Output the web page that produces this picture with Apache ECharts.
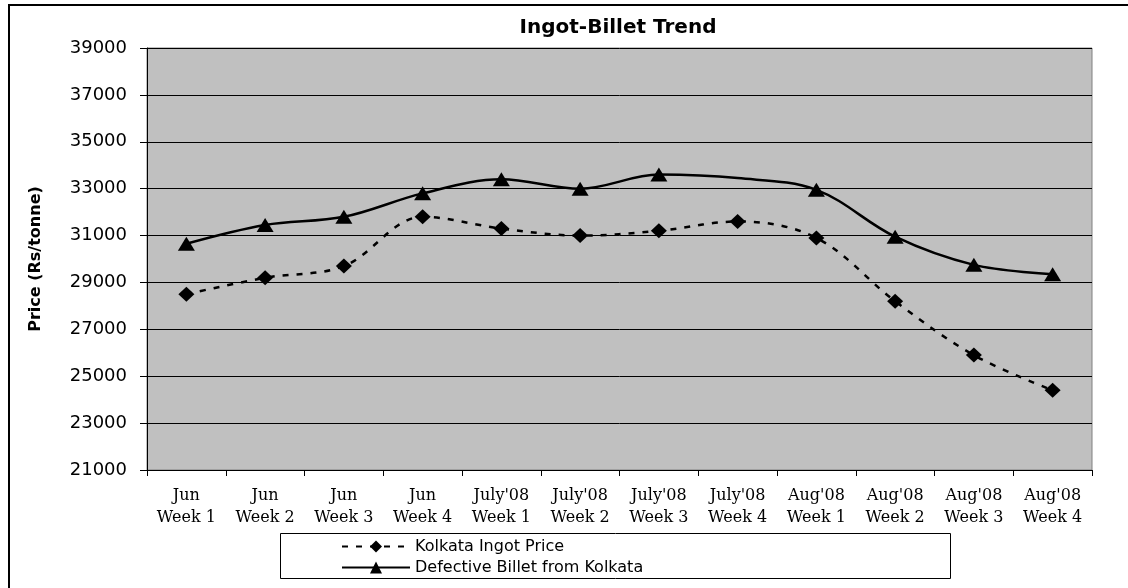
<!DOCTYPE html>
<html>
<head>
<meta charset="utf-8">
<script src="https://cdn.jsdelivr.net/npm/echarts@6/dist/echarts.min.js"></script>
<style>html,body{margin:0;padding:0;background:#fff;}#c{width:1128px;height:588px;}</style>
</head>
<body>
<div id="c"></div>
<script>
var categories = ["Jun\nWeek 1","Jun\nWeek 2","Jun\nWeek 3","Jun\nWeek 4","July'08\nWeek 1","July'08\nWeek 2","July'08\nWeek 3","July'08\nWeek 4","Aug'08\nWeek 1","Aug'08\nWeek 2","Aug'08\nWeek 3","Aug'08\nWeek 4"];
var ingotPrice = [28500, 29200, 29700, 31800, 31300, 31000, 31200, 31600, 30900, 28200, 25900, 24400];
var billetPrice = [30650, 31450, 31800, 32800, 33400, 33000, 33600, 33450, 32950, 30950, 29750, 29350];
var billetNoMarker = [7];
var yTicks = {min: 21000, max: 39000, interval: 2000};

var chart = echarts.init(document.getElementById('c'));
var billetData = billetPrice.map(function(v, i){
  return billetNoMarker.indexOf(i) >= 0 ? {value: v, symbol: 'none'} : v;
});
chart.setOption({
  animation: false,
  backgroundColor: '#fff',
  title: {
    text: 'Ingot-Billet Trend',
    left: 613, top: 13, textAlign: 'center',
    textStyle: {fontFamily: 'DejaVu Sans', fontWeight: 'bold', fontSize: 20, color: '#000'}
  },
  grid: {left: 147, right: 36, top: 48, bottom: 118, show: true, backgroundColor: '#C0C0C0', borderColor: '#808080', borderWidth: 1},
  legend: {
    left: 336, top: 533, orient: 'vertical', itemWidth: 68, itemHeight: 15, itemGap: 4,
    textStyle: {fontFamily: 'DejaVu Sans', fontSize: 16, color: '#000', lineHeight: 17},
    data: ['Kolkata Ingot Price', 'Defective Billet from Kolkata']
  },
  graphic: [
    {type: 'rect', z: -1, shape: {x: 9, y: 5, width: 1140, height: 620}, style: {fill: 'none', stroke: '#000', lineWidth: 2}},
    {type: 'rect', z: 0, shape: {x: 280.5, y: 533.5, width: 670, height: 45}, style: {fill: '#fff', stroke: '#000', lineWidth: 1}}
  ],
  xAxis: {
    type: 'category', data: categories, boundaryGap: true,
    axisLine: {lineStyle: {color: '#000', width: 1}},
    axisTick: {show: true, inside: false, length: 6, lineStyle: {color: '#000'}},
    axisLabel: {interval: 0, margin: 15, fontFamily: 'DejaVu Serif', fontSize: 16, lineHeight: 22, color: '#000'},
    splitLine: {show: false}
  },
  yAxis: {
    type: 'value', min: yTicks.min, max: yTicks.max, interval: yTicks.interval,
    name: 'Price (Rs/tonne)', nameLocation: 'middle', nameGap: 103, nameRotate: 90,
    nameTextStyle: {fontFamily: 'DejaVu Sans', fontWeight: 'bold', fontSize: 16, color: '#000'},
    axisLine: {show: true, lineStyle: {color: '#000', width: 1}},
    axisTick: {show: true, inside: false, length: 7, lineStyle: {color: '#000'}},
    axisLabel: {margin: 20, fontFamily: 'DejaVu Sans', fontSize: 18, color: '#000', formatter: function(v){ return String(v); }},
    splitLine: {show: true, lineStyle: {color: '#000', width: 1}}
  },
  series: [
    {
      name: 'Kolkata Ingot Price', type: 'line', data: ingotPrice, smooth: 0.35,
      symbol: 'diamond', symbolSize: [16, 15], color: '#000',
      itemStyle: {color: '#000'},
      lineStyle: {color: '#000', width: 2.5, type: [6, 8]}, z: 3
    },
    {
      name: 'Defective Billet from Kolkata', type: 'line', data: billetData, smooth: 0.35,
      symbol: 'triangle', symbolSize: [17, 14], color: '#000',
      itemStyle: {color: '#000'},
      lineStyle: {color: '#000', width: 2.5, type: 'solid'}, z: 3
    }
  ]
});
</script>
</body>
</html>
